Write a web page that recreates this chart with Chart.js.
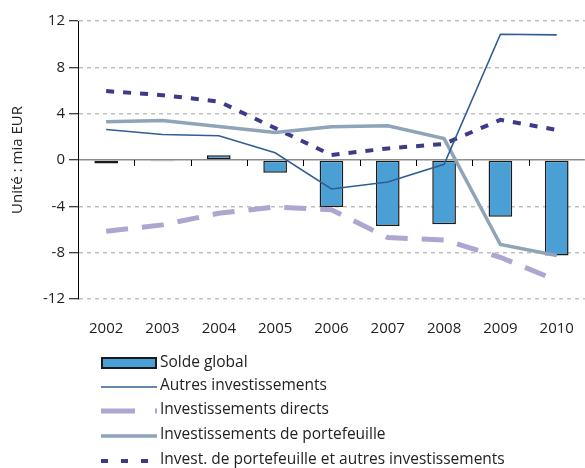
<!DOCTYPE html>
<html>
<head>
<meta charset="utf-8">
<script src="https://cdn.jsdelivr.net/npm/chart.js@4/dist/chart.umd.min.js"></script>
<style>
html,body{margin:0;padding:0;background:#fff;overflow:hidden;width:585px;height:468px;}
canvas{display:block;}
</style>
</head>
<body>
<canvas id="c" width="595" height="468"></canvas>
<script>
const categories = ['2002','2003','2004','2005','2006','2007','2008','2009','2010'];
const soldeGlobal = [-0.3, -0.1, 0.4, -1.1, -4.05, -5.7, -5.55, -4.9, -8.25];
const autresInvest = [2.63, 2.2, 2.1, 0.63, -2.5, -1.9, -0.37, 10.86, 10.8];
const investDirects = [-6.15, -5.6, -4.6, -4.05, -4.3, -6.7, -6.9, -8.4, -10.4];
const investPortefeuille = [3.3, 3.4, 2.9, 2.37, 2.86, 2.95, 1.85, -7.3, -8.25];
const investPortAutres = [5.95, 5.6, 5.05, 2.75, 0.43, 1.0, 1.39, 3.47, 2.6];
const yTicks = [12, 8, 4, 0, -4, -8, -12];
const seriesLabels = ['Solde global','Autres investissements','Investissements directs','Investissements de portefeuille','Invest. de portefeuille et autres investissements'];

const FONT = '"Open Sans", sans-serif';
const TEXT = '#222';

const xTickPlugin = {
  id: 'xTicks',
  afterDatasetsDraw(chart) {
    const ctx = chart.ctx, x = chart.scales.x, y = chart.scales.y;
    const y0 = y.getPixelForValue(0);
    ctx.save();
    ctx.strokeStyle = '#000';
    ctx.lineWidth = 1;
    for (let i = 0; i < categories.length - 1; i++) {
      const px = Math.round((x.getPixelForValue(i) + x.getPixelForValue(i + 1)) / 2) + 0.5;
      ctx.beginPath(); ctx.moveTo(px, y0); ctx.lineTo(px, y0 + 6); ctx.stroke();
    }
    ctx.restore();
  }
};

const legendPlugin = {
  id: 'vLegend',
  afterDraw(chart) {
    const ctx = chart.ctx;
    const rows = [363, 386, 410, 435, 460];
    const x0 = 101, x1 = 157, tx = 160;
    ctx.save();
    ctx.font = '15.5px ' + FONT;
    ctx.fillStyle = TEXT;
    ctx.textBaseline = 'middle';
    chart.data.datasets.forEach((ds, i) => {
      const yy = rows[i];
      ctx.save();
      if (ds.type === 'bar') {
        ctx.fillStyle = ds.backgroundColor;
        ctx.fillRect(x0, yy - 5, x1 - x0, 10);
        ctx.strokeStyle = ds.borderColor; ctx.lineWidth = 2;
        ctx.strokeRect(x0 + 1, yy - 5, x1 - x0 - 2, 10);
      } else {
        ctx.strokeStyle = ds.borderColor;
        ctx.lineWidth = ds.legendWidth || ds.borderWidth;
        ctx.setLineDash(ds.legendDash || []);
        ctx.beginPath(); ctx.moveTo(x0, yy + 1); ctx.lineTo(x1, yy + 1); ctx.stroke();
      }
      ctx.restore();
      ctx.fillText(ds.label, tx, yy);
    });
    ctx.restore();
  }
};

new Chart(document.getElementById('c'), {
  data: {
    labels: categories,
    datasets: [
      { type: 'bar', label: seriesLabels[0], data: soldeGlobal, backgroundColor: '#4a9fd4', borderColor: '#1a1a1a', borderWidth: 1.5, borderSkipped: false, barPercentage: 0.42, categoryPercentage: 1, order: 5 },
      { type: 'line', label: seriesLabels[1], data: autresInvest, borderColor: '#305e94', borderWidth: 1.6, pointRadius: 0, tension: 0, fill: false, order: 1 },
      { type: 'line', label: seriesLabels[2], data: investDirects, borderColor: '#aca6d0', borderWidth: 5, borderDash: [22, 14], legendDash: [34, 20], pointRadius: 0, tension: 0, fill: false, order: 4 },
      { type: 'line', label: seriesLabels[3], data: investPortefeuille, borderColor: '#8fa3b9', borderWidth: 3.5, pointRadius: 0, tension: 0, fill: false, order: 2 },
      { type: 'line', label: seriesLabels[4], data: investPortAutres, borderColor: '#3d3a8a', borderWidth: 4, borderDash: [8, 9], legendDash: [7, 13], pointRadius: 0, tension: 0, fill: false, order: 3 }
    ]
  },
  options: {
    responsive: false,
    animation: false,
    layout: { padding: { top: 21, right: 2, bottom: 130, left: 0 } },
    plugins: { legend: { display: false }, tooltip: { enabled: false } },
    scales: {
      x: {
        type: 'category',
        offset: true,
        grid: { display: false, drawTicks: false },
        border: { display: false },
        ticks: { color: TEXT, font: { family: FONT, size: 15 }, padding: 21, maxRotation: 0 },
        afterFit(s) { s.height = 39; }
      },
      y: {
        min: -12, max: 12,
        afterBuildTicks(s) { s.ticks = yTicks.map(v => ({ value: v })); },
        ticks: { color: TEXT, font: { family: FONT, size: 15 }, padding: 4, callback: v => String(v) },
        grid: {
          color: ctx => (ctx.tick && ctx.tick.value === 0 ? '#8c8c8c' : '#c0c0c0'),
          lineWidth: 1.5,
          drawTicks: true, tickLength: 9, tickColor: '#000', tickWidth: 1
        },
        border: { display: true, color: '#000', width: 1, dash: ctx => (ctx.tick && ctx.tick.value === 0 ? [] : [4, 4]) },
        title: { display: true, text: 'Unité : mia EUR', color: TEXT, font: { family: FONT, size: 15 }, padding: { top: 9, bottom: 4 } },
        afterFit(s) { s.width = 78; }
      }
    }
  },
  plugins: [xTickPlugin, legendPlugin]
});
</script>
</body>
</html>
